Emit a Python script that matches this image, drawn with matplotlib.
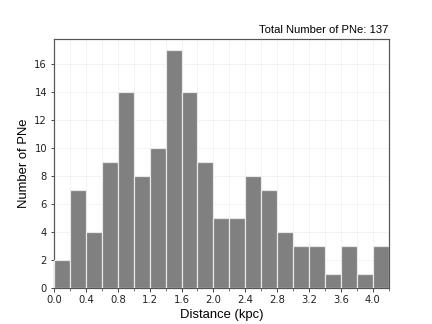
import numpy as np
import matplotlib
matplotlib.use("Agg")
import matplotlib.pyplot as plt
from matplotlib.ticker import MultipleLocator

plt.rcParams["font.family"] = ["Liberation Sans", "DejaVu Sans"]

# histogram of distances, 0.2 kpc bins
bin_edges = [round(0.2 * i, 1) for i in range(22)]
counts = [2, 7, 4, 9, 14, 8, 10, 17, 14, 9, 5, 5, 8, 7, 4, 3, 3, 1, 3, 1, 3]
total = 137

fig, ax = plt.subplots(figsize=(6, 4.5), dpi=72)

left = np.array(bin_edges[:-1])
width = np.diff(bin_edges)
ax.bar(left, counts, width=width, align="edge", color="#808080",
       edgecolor="#e8e8e8", linewidth=1.2, zorder=3)

ax.set_xlim(0, 4.2)
ax.set_ylim(0, 17.8)
ax.xaxis.set_major_locator(MultipleLocator(0.4))
ax.xaxis.set_minor_locator(MultipleLocator(0.2))
ax.yaxis.set_major_locator(MultipleLocator(2))
ax.xaxis.set_major_formatter(matplotlib.ticker.FormatStrFormatter("%.1f"))

ax.grid(True, which="both", color="#f0f0f0", linewidth=0.8, zorder=0)
for s in ax.spines.values():
    s.set_color("#555555")
    s.set_linewidth(1.2)
ax.tick_params(which="both", direction="out", colors="#222222", labelsize=10,
               labelfontfamily="DejaVu Sans")
ax.tick_params(which="minor", length=3)

ax.set_xlabel("Distance (kpc)", fontsize=13)
ax.set_ylabel("Number of PNe", fontsize=13)
ax.set_title("Total Number of PNe: " + str(total), loc="right", fontsize=11.2)

fig.savefig("out.png", dpi=72)
